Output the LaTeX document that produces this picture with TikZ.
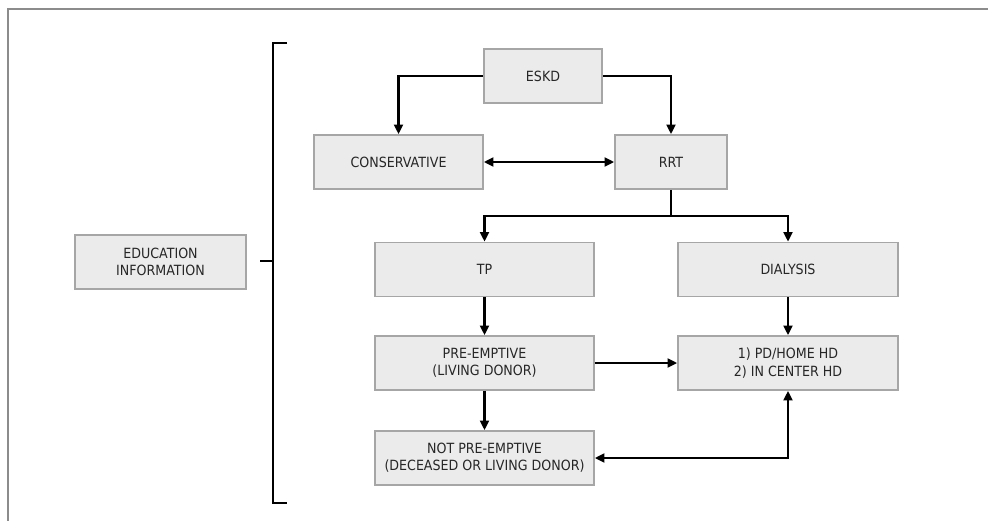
\documentclass[tikz,border=0pt]{standalone}
\usepackage{fontspec}
\setmainfont{DejaVu Sans}[FakeStretch=0.9]
\usetikzlibrary{arrows.meta}
\definecolor{boxfill}{HTML}{EBEBEB}
\definecolor{boxline}{HTML}{A6A6A6}
\definecolor{frameline}{HTML}{8C8C8C}

\begin{document}
\begin{tikzpicture}[x=0.02cm,y=-0.02cm,
        box/.style={rectangle, draw=boxline, fill=boxfill, line width=0.9pt,
                        align=center, inner sep=0pt, minimum height=1.08cm,
                        text=black!85, font=\fontsize{8}{9.8}\selectfont},
        link/.style={line width=1.5pt, -{Triangle[length=5.5pt,width=5pt]}},
        twolink/.style={line width=1.5pt, {Triangle[length=5.5pt,width=5pt]}-{Triangle[length=5.5pt,width=5pt]}}]
    \useasboundingbox (0,0) rectangle (988,521);
    \draw[frameline, line width=1.2pt] (8,521) -- (8,9) -- (988,9);
    % boxes
    \node[box, minimum width=2.36cm] (eskd) at (543,76) {ESKD};
    \node[box, minimum width=3.38cm] (cons) at (398.5,162) {CONSERVATIVE};
    \node[box, minimum width=2.24cm] (rrt) at (671,162) {RRT};
    \node[box, minimum width=4.38cm] (tp) at (484.5,269.5) {TP};
    \node[box, minimum width=4.4cm] (dial) at (788,269.5) {DIALYSIS};
    \node[box, minimum width=4.38cm] (pre) at (484.5,363) {PRE-EMPTIVE\\(LIVING DONOR)};
    \node[box, minimum width=4.4cm] (home) at (788,363) {1) PD/HOME HD\\2) IN CENTER HD};
    \node[box, minimum width=4.38cm] (notpre) at (484.5,458) {NOT PRE-EMPTIVE\\(DECEASED OR LIVING DONOR)};
    \node[box, minimum width=3.42cm] (edu) at (160.5,262) {EDUCATION\\INFORMATION};
    % bracket
    \coordinate (btop) at (273,43);
    \coordinate (bbot) at (273,503);
    \coordinate (bmid) at (273,261);
    \draw[line width=1.3pt] (287,43) -- (btop) -- (bbot) -- (287,503);
    \draw[line width=1.3pt] (260,261) -- (bmid);
    % connectors
    \coordinate (split) at (671,216);
    \draw[link] (eskd.west) -| (cons.north);
    \draw[link] (eskd.east) -| (rrt.north);
    \draw[twolink] (cons.east) -- (rrt.west);
    \draw[line width=1.5pt] (rrt.south) -- (split);
    \draw[link] (split) -| (tp.north);
    \draw[link] (split) -| (dial.north);
    \draw[link] (tp.south) -- (pre.north);
    \draw[link] (dial.south) -- (home.north);
    \draw[link] (pre.east) -- (home.west);
    \draw[link] (pre.south) -- (notpre.north);
    \draw[twolink] (notpre.east) -| (home.south);
\end{tikzpicture}
\end{document}
